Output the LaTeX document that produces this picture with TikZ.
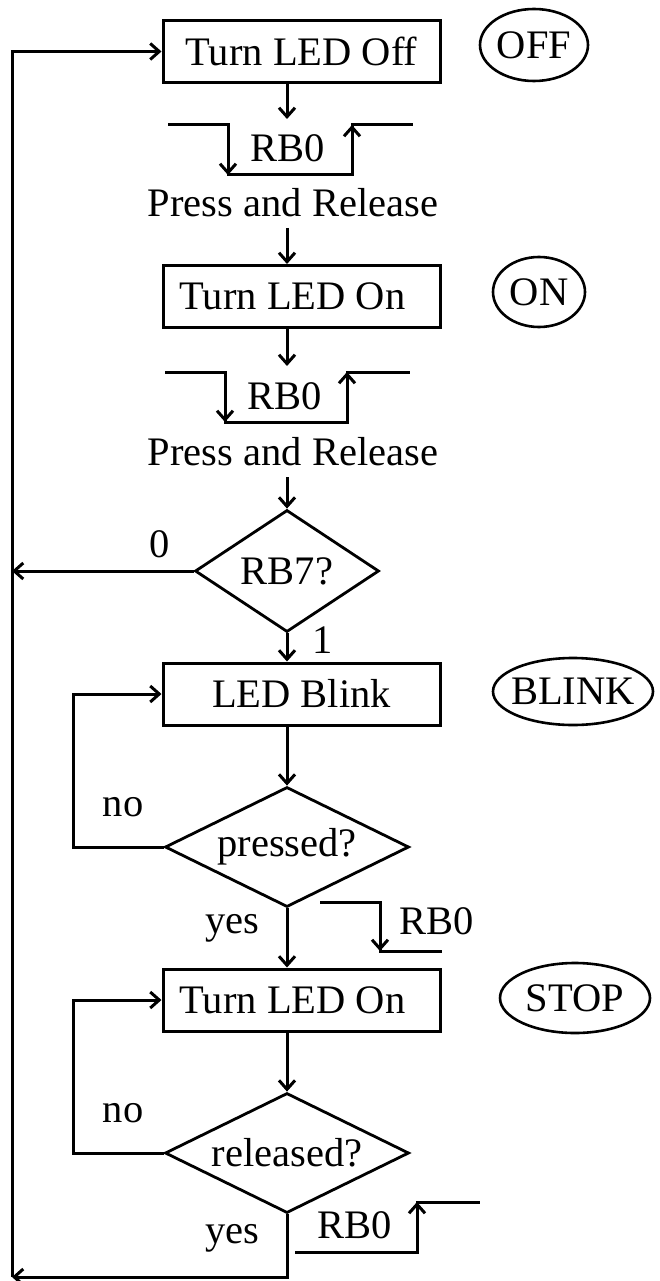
\documentclass[tikz,border=0pt]{standalone}
\usepackage{fontspec}
\setmainfont{Liberation Serif}
\usetikzlibrary{arrows.meta,shapes.geometric}
\begin{document}
\begin{tikzpicture}[x=1pt,y=-1pt,
 every node/.style={font=\fontsize{40.5}{48}\selectfont},
 thk/.style={line width=3pt},
 arr/.style={thk, -{Straight Barb[length=9pt,width=16pt,line width=3pt]}},
 box/.style={draw, thk, rectangle, minimum width=277pt, minimum height=62pt, inner sep=0pt},
 dec/.style={draw, line width=2.8pt, diamond, aspect=2, inner sep=0pt},
 tag/.style={draw, line width=2.6pt, ellipse, inner sep=0pt},
 lbl/.style={anchor=base, inner sep=0pt}]
\useasboundingbox (0,0) rectangle (660,1281);
\coordinate (fx) at (287,0);
\coordinate (lx) at (12,0);
\coordinate (lp) at (73,0);
% boxes and tags
\node[box] (b1) at (301.5,51.5) {Turn LED Off};
\node[tag, minimum width=108pt, minimum height=72pt] (off) at (534,45) {\makebox[0pt]{OFF}};
\node[box] (b2) at (301.5,296.5) {\hspace*{-18pt}Turn LED On};
\node[tag, minimum width=92pt, minimum height=70pt] (on) at (539,292) {\makebox[0pt]{ON}};
\node[box] (b3) at (301.5,694) {LED Blink};
\node[tag, minimum width=160pt, minimum height=67pt] (blink) at (573,691.5) {\makebox[0pt]{BLINK}};
\node[box] (b4) at (301.5,1000) {\hspace*{-18pt}Turn LED On};
\node[tag, minimum width=150pt, minimum height=70pt] (stop) at (575,998) {\makebox[0pt]{STOP}};
% decisions
\node[dec, minimum width=184pt, minimum height=122pt] (d1) at (287,571) {RB7?};
\node[dec, minimum width=244pt, minimum height=120pt] (d2) at (287,847) {pressed?};
\node[dec, minimum width=244pt, minimum height=120pt] (d3) at (287,1153) {released?};
% labels
\node[lbl] (rb0a) at (288,162) {RB0};
\node[lbl] (pr1) at (293,217) {Press and Release};
\node[lbl] (rb0b) at (285,409) {RB0};
\node[lbl] (pr2) at (293,465) {Press and Release};
\node[lbl] (zero) at (160,557) {0};
\node[lbl] (one) at (323,653) {1};
\node[lbl] (no1) at (123,816) {no};
\node[lbl] (yes1) at (232,933) {yes};
\node[lbl] (rb0c) at (437,934) {RB0};
\node[lbl] (no2) at (123,1122) {no};
\node[lbl] (yes2) at (232,1243) {yes};
\node[lbl] (rb0d) at (355,1238) {RB0};
% waveform 1
\coordinate (w1a) at (168,125); \coordinate (w1b) at (228,125);
\coordinate (w1c) at (228,175); \coordinate (w1d) at (352,175);
\coordinate (w1e) at (352,125); \coordinate (w1f) at (413,125);
\draw[thk] (w1a) -- (w1b) -- (w1c) -- (w1d) -- (w1e) -- (w1f);
\draw[arr] (w1b) -- (w1c);
\draw[arr] (w1d) -- (w1e);
% waveform 2
\coordinate (w2a) at (165,372); \coordinate (w2b) at (225,372);
\coordinate (w2c) at (225,422); \coordinate (w2d) at (347,422);
\coordinate (w2e) at (347,372); \coordinate (w2f) at (410,372);
\draw[thk] (w2a) -- (w2b) -- (w2c) -- (w2d) -- (w2e) -- (w2f);
\draw[arr] (w2b) -- (w2c);
\draw[arr] (w2d) -- (w2e);
% waveform 3
\coordinate (w3a) at (320,902); \coordinate (w3b) at (380,902);
\coordinate (w3c) at (380,951); \coordinate (w3d) at (442,951);
\draw[thk] (w3a) -- (w3b) -- (w3c) -- (w3d);
\draw[arr] (w3b) -- (w3c);
% waveform 4
\coordinate (w4a) at (295,1252); \coordinate (w4b) at (417,1252);
\coordinate (w4c) at (417,1202); \coordinate (w4d) at (480,1202);
\draw[thk] (w4a) -- (w4b) -- (w4c) -- (w4d);
\draw[arr] (w4b) -- (w4c);
% flow
\coordinate (in1) at (287,119);
\coordinate (o1) at (287,228);
\coordinate (in2) at (287,366);
\coordinate (o2) at (287,477);
\coordinate (bot) at (12,1277);
\draw[arr] (b1.south -| fx) -- (in1);
\draw[arr] (o1) -- (b2.north -| fx);
\draw[arr] (b2.south -| fx) -- (in2);
\draw[arr] (o2) -- (d1.north);
\draw[arr] (d1.south) -- (b3.north -| fx);
\draw[arr] (d1.west) -- (d1.west -| lx);
\draw[arr] (b3.south -| fx) -- (d2.north);
\draw[arr] (d2.south) -- (b4.north -| fx);
\draw[arr] (d2.west) -| (lp |- b3.west) -- (b3.west);
\draw[arr] (b4.south -| fx) -- (d3.north);
\draw[arr] (d3.west) -| (lp |- b4.west) -- (b4.west);
\draw[arr] (d3.south) |- (bot);
\draw[arr] (bot) |- (b1.west);
\end{tikzpicture}
\end{document}
